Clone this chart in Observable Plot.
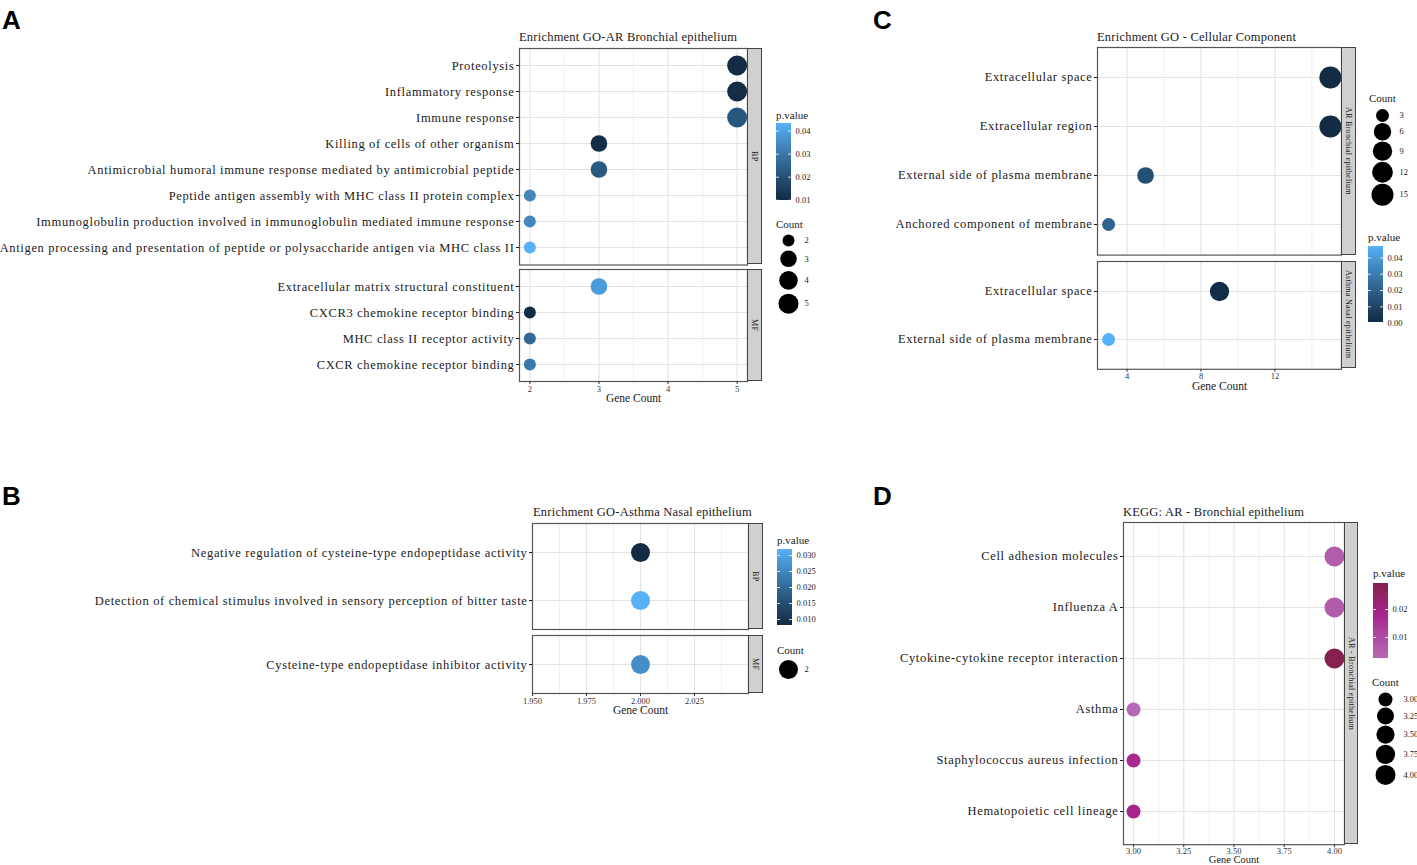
<!DOCTYPE html>
<html><head><meta charset="utf-8">
<script src="https://cdn.jsdelivr.net/npm/d3@7"></script>
<script src="https://cdn.jsdelivr.net/npm/@observablehq/plot@0.6"></script>
<style>
body{margin:0;background:#fff}
#root{position:relative;width:1417px;height:865px;overflow:hidden;background:#fff;font-family:'Liberation Serif','DejaVu Serif',serif;color:#1a1a1a}
#root>div{position:absolute}
#root svg{max-width:none !important;overflow:visible;display:block}
.plab{font:bold 26px/26px 'Liberation Sans',Arial,sans-serif;color:#000}
.title{font-size:12.5px;line-height:14px;white-space:nowrap;letter-spacing:0.22px}
.ltitle{font-size:11px;line-height:14px;white-space:nowrap}
.strip{background:#D0D0D0;border:1px solid #444;box-sizing:border-box;display:flex;align-items:center;justify-content:center;overflow:hidden}
.strip span{writing-mode:vertical-rl;font-size:8px;white-space:nowrap;letter-spacing:0.3px}
</style></head>
<body><div id="root"></div>
<script>
// ---------------- DATA ----------------
// Panel A: Enrichment GO-AR Bronchial epithelium
const aBPTerms = ["Proteolysis","Inflammatory response","Immune response","Killing of cells of other organism","Antimicrobial humoral immune response mediated by antimicrobial peptide","Peptide antigen assembly with MHC class II protein complex","Immunoglobulin production involved in immunoglobulin mediated immune response","Antigen processing and presentation of peptide or polysaccharide antigen via MHC class II"];
const aBPCount = [5,5,5,3,3,2,2,2];
const aBPP = [0.0099,0.0104,0.0215,0.0108,0.0222,0.0335,0.0338,0.0433];
const aMFTerms = ["Extracellular matrix structural constituent","CXCR3 chemokine receptor binding","MHC class II receptor activity","CXCR chemokine receptor binding"];
const aMFCount = [3,2,2,2];
const aMFP = [0.0385,0.0103,0.0262,0.0300];
const aXTicks = [2,3,4,5];
const aXMinor = [2.5,3.5,4.5];
const aPTicks = [0.01,0.02,0.03,0.04];
const aCountKeys = [2,3,4,5];

// Panel B: Enrichment GO-Asthma Nasal epithelium
const bBPTerms = ["Negative regulation of cysteine-type endopeptidase activity","Detection of chemical stimulus involved in sensory perception of bitter taste"];
const bBPCount = [2,2];
const bBPP = [0.0081,0.0319];
const bMFTerms = ["Cysteine-type endopeptidase inhibitor activity"];
const bMFCount = [2];
const bMFP = [0.0262];
const bXTicks = [1.95,1.975,2.0,2.025];
const bXMinor = [1.9625,1.9875,2.0125,2.0375];
const bPTicks = [0.010,0.015,0.020,0.025,0.030];
const bCountKeys = [2];

// Panel C: Enrichment GO - Cellular Component
const cARTerms = ["Extracellular space","Extracellular region","External side of plasma membrane","Anchored component of membrane"];
const cARCount = [15,15,5,3];
const cARP = [0.0004,0.0007,0.0140,0.0210];
const cASTerms = ["Extracellular space","External side of plasma membrane"];
const cASCount = [9,3];
const cASP = [0.0012,0.0470];
const cXTicks = [4,8,12];
const cXMinor = [6,10,14];
const cPTicks = [0.00,0.01,0.02,0.03,0.04];
const cCountKeys = [3,6,9,12,15];

// Panel D: KEGG: AR - Bronchial epithelium
const dTerms = ["Cell adhesion molecules","Influenza A","Cytokine-cytokine receptor interaction","Asthma","Staphylococcus aureus infection","Hematopoietic cell lineage"];
const dCount = [4,4,4,3,3,3];
const dP = [0.0055,0.0060,0.0293,0.0025,0.0168,0.0180];
const dXTicks = [3,3.25,3.5,3.75,4];
const dXMinor = [3.125,3.375,3.625,3.875];
const dPTicks = [0.01,0.02];
const dCountKeys = [3,3.25,3.5,3.75,4];

// ---------------- HELPERS ----------------
const FONT = "'Liberation Serif','DejaVu Serif',serif";
const STYLE = {fontFamily: FONT, background: "transparent", overflow: "visible", color: "#1a1a1a"};
const root = document.getElementById("root");

function addEl(cls, text, left, top, style = {}) {
  const e = document.createElement("div");
  if (cls) e.className = cls;
  if (text != null) e.textContent = text;
  e.style.left = left + "px"; e.style.top = top + "px";
  Object.assign(e.style, style);
  root.appendChild(e);
  return e;
}
function placeSvg(svg, left, top, w) {
  const d = addEl(null, null, left, top, {width: w + "px"});
  d.appendChild(svg);
}
function makeR(cmin, cmax, rmin, rmax) {
  const t = cmin === cmax ? (() => 1) : (v => Math.sqrt((v - cmin) / (cmax - cmin)));
  return {spec: {type: "linear", domain: [0, 1], range: [rmin, rmax], transform: t},
          rOf: v => rmin + (rmax - rmin) * t(v)};
}
function blueScale(vals) {
  return {type: "linear", domain: d3.extent(vals), range: ["#132B43", "#56B1F7"], interpolate: d3.interpolateLab};
}

function facet(o) {
  const rows = o.terms.map((t, i) => ({term: t, count: o.counts[i], p: o.pvals[i]}));
  const svgTop = o.top - 3;
  const bottomExtra = o.showX ? 30 : 3;
  const width = o.right - o.svgLeft + 3;
  const height = o.bottom - svgTop + bottomExtra;
  const marks = [
    Plot.ruleX(o.xMinor, {stroke: "#EFEFEF", strokeWidth: 0.8}),
    Plot.ruleX(o.xTicks, {stroke: "#E3E3E3", strokeWidth: 1.1}),
    Plot.ruleY(o.terms, {stroke: "#E3E3E3", strokeWidth: 1.1}),
    Plot.dot(rows, {x: "count", y: "term", r: "count", fill: "p"}),
    Plot.frame({stroke: "#555", strokeWidth: 1.2}),
    Plot.axisY({tickSize: 3, tickPadding: 2, fontSize: 12.5, label: null, color: "#1a1a1a"})
  ];
  if (o.showX) {
    marks.push(
      Plot.axisX(o.xTicks, {tickSize: 3, tickPadding: o.tickPad ?? 1, fontSize: 8.5, tickFormat: o.xFormat, label: null, color: "#333"}),
      Plot.text(["Gene Count"], {frameAnchor: "bottom", dy: o.gcDy ?? 20.5, fontSize: o.gcSize ?? 11.5, fill: "#1a1a1a"})
    );
  }
  const svg = Plot.plot({
    width, height,
    marginLeft: o.left - o.svgLeft, marginRight: 3, marginTop: 3, marginBottom: bottomExtra,
    style: STYLE,
    x: o.showX ? {domain: o.xDomain} : {domain: o.xDomain, axis: null},
    y: {type: "point", domain: o.terms, padding: 0.6},
    color: o.color, r: o.r,
    marks
  });
  svg.querySelectorAll('[aria-label="y-axis tick label"]').forEach(g => g.style.letterSpacing = "0.66px");
  placeSvg(svg, o.svgLeft, svgTop, width);
  const s = addEl("strip", null, o.right, o.top, {width: o.stripW + "px", height: (o.bottom - o.top) + "px"});
  const sp = document.createElement("span"); sp.textContent = o.strip; s.appendChild(sp);
}

function colorbar(o) {
  addEl("ltitle", "p.value", o.left, o.titleCY - 7);
  const lo = o.color.domain[0], hi = o.color.domain[o.color.domain.length - 1];
  const n = 90;
  const bands = d3.range(n).map(i => ({a: lo + (hi - lo) * i / n, b: lo + (hi - lo) * (i + 1) / n}));
  const barW = o.barW || 15;
  const W = barW + 40;
  const svg = Plot.plot({
    width: W, height: o.bottom - o.top + 10,
    marginTop: 5, marginBottom: 5, marginLeft: 0, marginRight: 40,
    style: STYLE,
    x: {domain: [0, 1], axis: null},
    y: {domain: [lo, hi], axis: null},
    color: o.color,
    marks: [
      Plot.rect(bands, {x1: 0, x2: 1, y1: "a", y2: "b", fill: d => (d.a + d.b) / 2, shapeRendering: "crispEdges"}),
      Plot.ruleY(o.ticks, {x1: 0, x2: 0.2, stroke: "white", strokeWidth: 0.8}),
      Plot.ruleY(o.ticks, {x1: 0.8, x2: 1, stroke: "white", strokeWidth: 0.8}),
      Plot.axisY(o.ticks, {anchor: "right", tickSize: 0, tickPadding: 4, tickFormat: o.fmt, fontSize: 8.5, label: null, color: "#1a1a1a"})
    ]
  });
  placeSvg(svg, o.left, o.top - 5, W);
}

function sizeLegend(o) {
  addEl("ltitle", "Count", o.left, o.titleCY - 7);
  const rs = o.values.map(o.R.rOf);
  const ys = []; let y = 0;
  rs.forEach((r, i) => { if (i > 0) y += rs[i - 1] + r + o.gap; ys.push(y); });
  const items = o.values.map((v, i) => ({v, y: ys[i] + 15, label: o.fmt(v)}));
  const svg = Plot.plot({
    width: 60, height: ys[ys.length - 1] + 30, margin: 0,
    style: STYLE,
    x: {type: "identity", axis: null}, y: {type: "identity", axis: null},
    r: o.R.spec,
    marks: [
      Plot.dot(items, {x: () => o.dotX, y: "y", r: "v", fill: "#000"}),
      Plot.text(items, {x: () => o.labelX, y: "y", text: "label", textAnchor: "start", fontSize: 8.5, fill: "#1a1a1a"})
    ]
  });
  placeSvg(svg, o.left, o.firstY - 15, 60);
}

// ---------------- PANEL LETTERS ----------------
addEl("plab", "A", 2, 7);
addEl("plab", "B", 2, 483);
addEl("plab", "C", 873, 7);
addEl("plab", "D", 873, 483);

// ---------------- PANEL A ----------------
{
  const color = blueScale([...aBPP, ...aMFP]);
  const R = makeR(2, 5, 6, 10);
  addEl("title", "Enrichment GO-AR Bronchial epithelium", 519, 30);
  const common = {svgLeft: 0, left: 519, right: 747, stripW: 15, xDomain: [1.85, 5.15], xTicks: aXTicks, xMinor: aXMinor, xFormat: d3.format("d"), color, r: R.spec};
  facet({...common, top: 47.5, bottom: 264, terms: aBPTerms, counts: aBPCount, pvals: aBPP, strip: "BP", showX: false});
  facet({...common, top: 269, bottom: 381, terms: aMFTerms, counts: aMFCount, pvals: aMFP, strip: "MF", showX: true});
  colorbar({left: 776, titleCY: 115, top: 123, bottom: 200, color, ticks: aPTicks, fmt: d3.format(".2f")});
  sizeLegend({left: 776, titleCY: 224, firstY: 240, dotX: 12, labelX: 28, values: aCountKeys, R, gap: 4, fmt: d3.format("d")});
}

// ---------------- PANEL B ----------------
{
  const color = blueScale([...bBPP, ...bMFP]);
  const R = makeR(2, 2, 9.5, 9.5);
  addEl("title", "Enrichment GO-Asthma Nasal epithelium", 533, 505);
  const common = {svgLeft: 0, left: 532, right: 748, stripW: 15, xDomain: [1.95, 2.05], xTicks: bXTicks, xMinor: bXMinor, xFormat: d3.format(".3f"), color, r: R.spec};
  facet({...common, top: 523, bottom: 629, terms: bBPTerms, counts: bBPCount, pvals: bBPP, strip: "BP", showX: false});
  facet({...common, top: 635, bottom: 693, terms: bMFTerms, counts: bMFCount, pvals: bMFP, strip: "MF", showX: true});
  colorbar({left: 777, titleCY: 540, top: 549, bottom: 625, color, ticks: bPTicks, fmt: d3.format(".3f")});
  sizeLegend({left: 777, titleCY: 650, firstY: 669, dotX: 11, labelX: 27, values: bCountKeys, R, gap: 4, fmt: d3.format("d")});
}

// ---------------- PANEL C ----------------
{
  const color = blueScale([...cARP, ...cASP]);
  const R = makeR(3, 15, 6.5, 11);
  addEl("title", "Enrichment GO - Cellular Component", 1097, 30);
  const common = {svgLeft: 870, left: 1097, right: 1341, stripW: 15, xDomain: [2.4, 15.6], xTicks: cXTicks, xMinor: cXMinor, xFormat: d3.format("d"), color, r: R.spec};
  facet({...common, top: 47, bottom: 254.6, terms: cARTerms, counts: cARCount, pvals: cARP, strip: "AR Bronchial epithelium", showX: false});
  facet({...common, top: 260.6, bottom: 368.4, terms: cASTerms, counts: cASCount, pvals: cASP, strip: "Asthma Nasal epithelium", showX: true});
  sizeLegend({left: 1369, titleCY: 98, firstY: 115, dotX: 13, labelX: 30, values: cCountKeys, R, gap: 1, fmt: d3.format("d")});
  colorbar({left: 1368, titleCY: 237, top: 246, bottom: 322, color, ticks: cPTicks, fmt: d3.format(".2f")});
}

// ---------------- PANEL D ----------------
{
  const color = {type: "linear", domain: [0.0025, 0.0175, 0.0293], range: ["#B468B4", "#A7268F", "#85204F"], interpolate: d3.interpolateLab};
  const R = makeR(3, 4, 7, 10);
  addEl("title", "KEGG: AR - Bronchial epithelium", 1123, 505);
  facet({svgLeft: 870, left: 1123, right: 1344, stripW: 14, top: 522, bottom: 844.2, xDomain: [2.95, 4.05], xTicks: dXTicks, xMinor: dXMinor, xFormat: d3.format(".2f"), color, r: R.spec,
         terms: dTerms, counts: dCount, pvals: dP, strip: "AR - Bronchial epithelium", showX: true, tickPad: 0, gcDy: 18, gcSize: 10.5});
  colorbar({left: 1373, titleCY: 573, top: 583, bottom: 658, color, ticks: dPTicks, fmt: d3.format(".2f")});
  sizeLegend({left: 1372, titleCY: 682, firstY: 699, dotX: 13, labelX: 31, values: dCountKeys, R, gap: 1, fmt: d3.format(".2f")});
}
</script></body></html>
